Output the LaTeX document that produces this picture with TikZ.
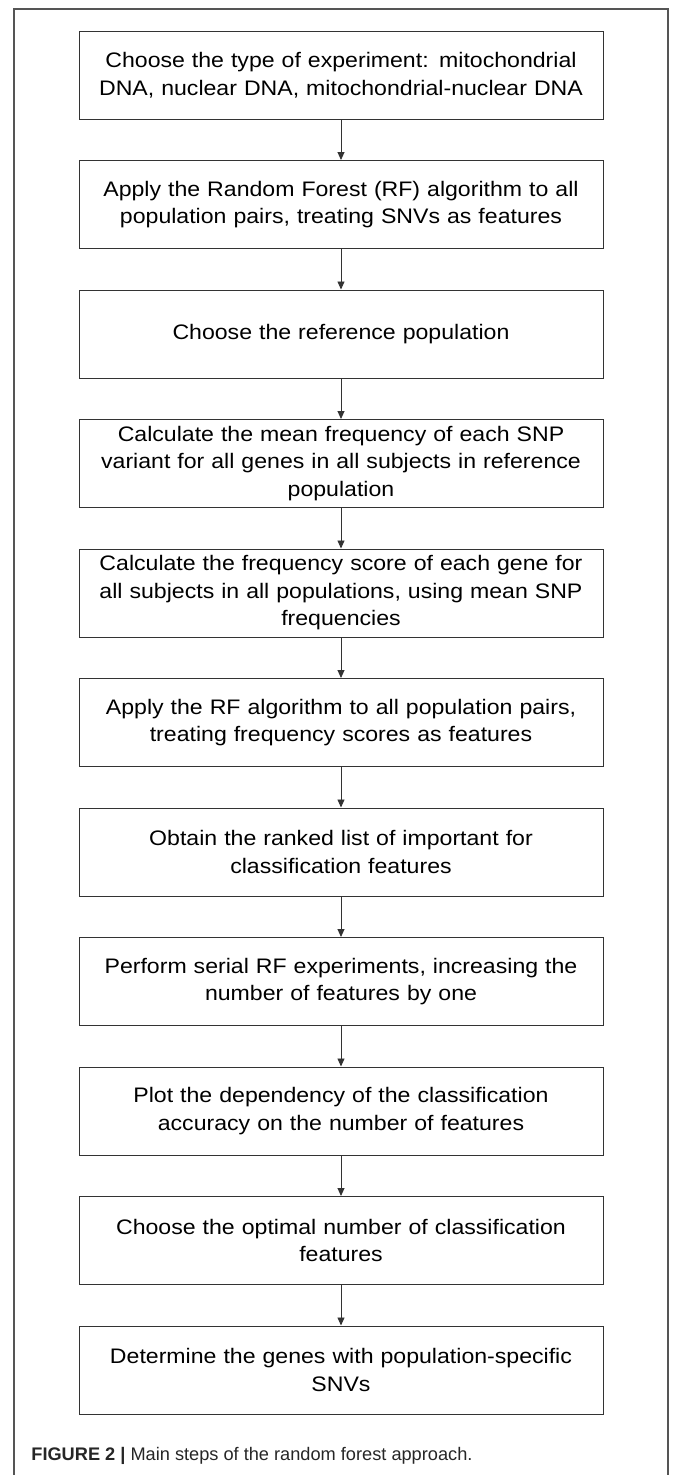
\documentclass[tikz,border=0pt]{standalone}
\usepackage{fontspec}
\setmainfont{Liberation Sans}
\newfontfamily\boxfont[FakeStretch=1.1]{Liberation Sans}
\usetikzlibrary{positioning,arrows.meta}
\definecolor{boxline}{HTML}{333333}
\definecolor{frameline}{HTML}{555555}
\definecolor{captext}{HTML}{262626}

\begin{document}
\begin{tikzpicture}[x=1pt, y=1pt, node distance={40.5pt}, thick,
    main/.style = {draw=boxline, line width=1pt, rectangle, text width=520pt, inner xsep=2pt, minimum height=88pt, align=center, font=\boxfont\fontsize{21}{27.5}\selectfont},
    >={Triangle[width=7pt,length=8pt]}]
		\useasboundingbox (0,0) rectangle (674,-1475);
		\draw[frameline, line width=1.2pt] (14,-1475) -- (14,-9) -- (668,-9) -- (668,-1475);
		
		\node[main] (1) at (341,-75) {Choose the type of experiment: mitochondrial\\DNA, nuclear DNA, mitochondrial-nuclear DNA};
		\node[main] (2) [below=of 1] {Apply the Random Forest (RF) algorithm to all\\population pairs, treating SNVs as features};
		\node[main] (3) [below=of 2] {Choose the reference population};
		\node[main] (4) [below=of 3] {Calculate the mean frequency of each SNP\\variant for all genes in all subjects in reference\\population};
		\node[main] (5) [below=of 4] {Calculate the frequency score of each gene for\\all subjects in all populations, using mean SNP\\frequencies};
		\node[main] (6) [below=of 5] {Apply the RF algorithm to all population pairs,\\treating frequency scores as features};
		\node[main] (7) [below=of 6] {Obtain the ranked list of important for\\classification features};
		\node[main] (8) [below=of 7] {Perform serial RF experiments, increasing the\\number of features by one};
		\node[main] (9) [below=of 8] {Plot the dependency of the classification\\accuracy on the number of features};
		\node[main] (10) [below=of 9] {Choose the optimal number of classification\\features};
		\node[main] (11) [below=of 10] {Determine the genes with population-specific\\SNVs};
		
		\draw[->, boxline, line width=0.9pt] (1) -- (2);
		\draw[->, boxline, line width=0.9pt] (2) -- (3);
		\draw[->, boxline, line width=0.9pt] (3) -- (4);
		\draw[->, boxline, line width=0.9pt] (4) -- (5);
		\draw[->, boxline, line width=0.9pt] (5) -- (6);
		\draw[->, boxline, line width=0.9pt] (6) -- (7);
		\draw[->, boxline, line width=0.9pt] (7) -- (8);
		\draw[->, boxline, line width=0.9pt] (8) -- (9);
		\draw[->, boxline, line width=0.9pt] (9) -- (10);
		\draw[->, boxline, line width=0.9pt] (10) -- (11);
		
		\node[anchor=base west, inner sep=0pt, text=captext] (cap) at (31,-1460) {\fontsize{18.2}{20}\selectfont\textbf{FIGURE 2 |} Main steps of the random forest approach.};
		\end{tikzpicture}
\end{document}
